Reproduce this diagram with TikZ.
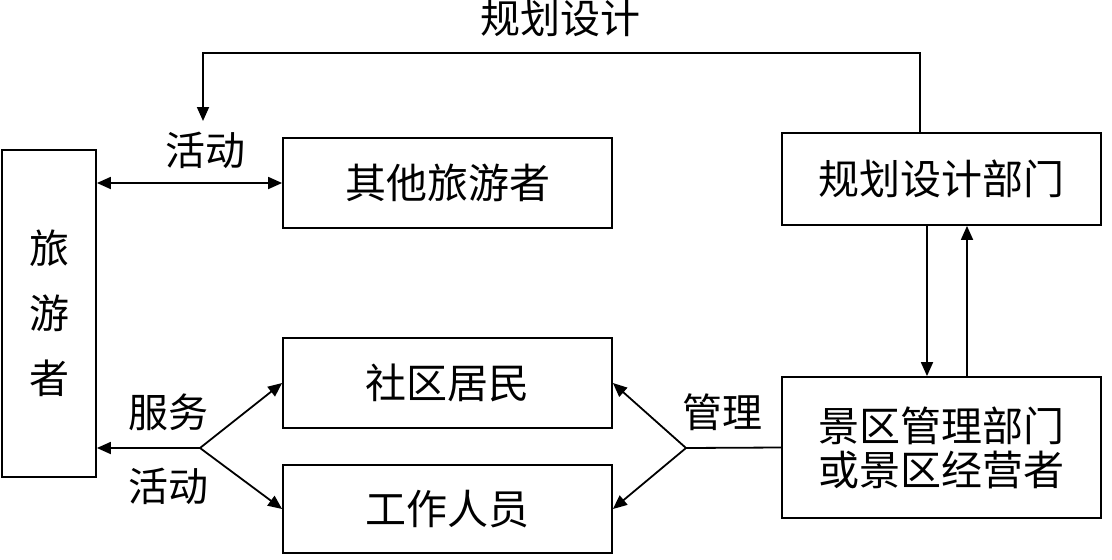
\documentclass[tikz,border=0pt]{standalone}
\usepackage{fontspec}
\newfontfamily\cjk{Noto Sans CJK SC}
\usepackage{tikz}
\usetikzlibrary{arrows.meta,positioning,calc}

\begin{document}
\begin{tikzpicture}[
    x=1pt, y=-1pt,
    box/.style={rectangle, draw=black, line width=1.8pt, align=center, inner sep=0pt, font=\cjk\fontsize{41}{44}\selectfont},
    lbl/.style={font=\cjk\fontsize{40}{44}\selectfont, inner sep=0pt},
    arrow/.style={-{Triangle[length=14pt,width=12pt]}, line width=1.8pt},
    dblarrow/.style={{Triangle[length=14pt,width=12pt]}-{Triangle[length=14pt,width=12pt]}, line width=1.8pt},
    plain/.style={line width=1.8pt}
]
    \useasboundingbox (0,0) rectangle (1112,560);

    % boxes
    \node [box, minimum width=94pt, minimum height=327pt, font=\cjk\fontsize{40}{65}\selectfont] (tourist) at (49,313.5) {旅\\游\\者};
    \node [box, minimum width=329pt, minimum height=90pt] (other) at (447.5,183) {其他旅游者};
    \node [box, minimum width=319pt, minimum height=92pt] (plan) at (941.5,179) {规划设计部门};
    \node [box, minimum width=329pt, minimum height=90pt] (resid) at (447.5,383) {社区居民};
    \node [box, minimum width=329pt, minimum height=88pt] (staff) at (447.5,509) {工作人员};
    \node [box, minimum width=319pt, minimum height=141pt] (manage) at (941.5,447.5) {景区管理部门\\或景区经营者};

    % labels
    \node [lbl] (lplan) at (560,18) {规划设计};
    \node [lbl] (lact1) at (205,150) {活动};
    \node [lbl] (lserv) at (168,412) {服务};
    \node [lbl] (lact2) at (168,486) {活动};
    \node [lbl] (lman) at (722,412) {管理};

    % connectors
    \coordinate (ltop) at (203,53);
    \coordinate (lend) at (203,121);
    \draw [arrow] ([xshift=-21.5pt]plan.north) |- (ltop) -- (lend);

    \draw [dblarrow] (other.west) -- (tourist.east |- other.west);

    \coordinate (lfork) at (200,448);
    \draw [arrow] (lfork) -- (tourist.east |- lfork);
    \draw [arrow] (lfork) -- (resid.west);
    \draw [arrow] (lfork) -- (staff.west);

    \coordinate (rfork) at (686,448);
    \draw [plain] (manage.west) -- (rfork);
    \draw [arrow] (rfork) -- (resid.east);
    \draw [arrow] (rfork) -- (staff.east);

    \draw [arrow] ([xshift=-14.5pt]plan.south) -- ([xshift=-14.5pt]manage.north);
    \draw [arrow] ([xshift=25.5pt]manage.north) -- ([xshift=25.5pt]plan.south);
\end{tikzpicture}
\end{document}
